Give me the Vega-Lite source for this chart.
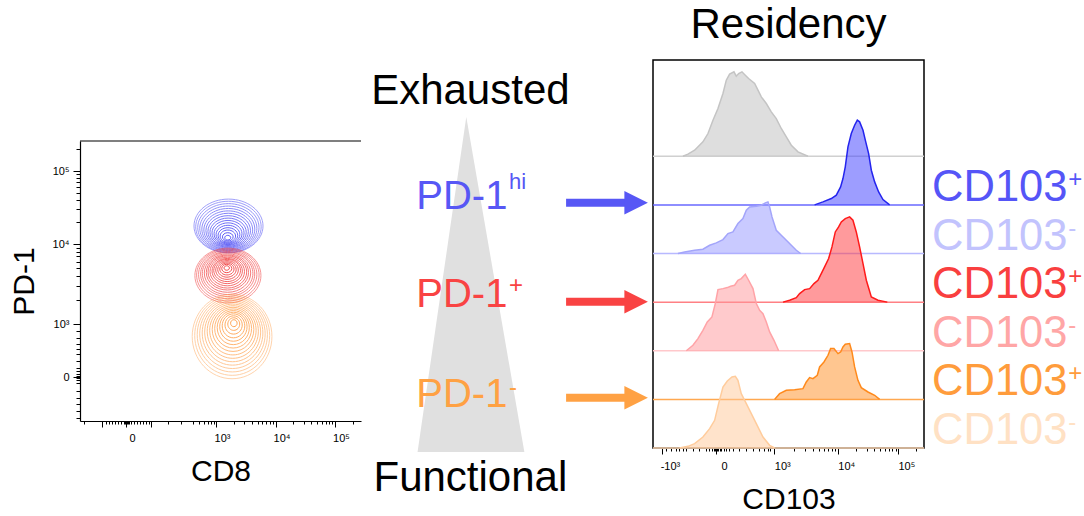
{
  "$schema": "https://vega.github.io/schema/vega-lite/v6.json",
  "padding": {"left": 9, "top": 3, "right": 0, "bottom": 0},
  "spacing": 0,
  "config": {
    "font": "Liberation Sans",
    "view": {"stroke": null},
    "axis": {"labelFont": "Liberation Sans", "titleFont": "Liberation Sans", "labelColor": "black", "titleColor": "black", "domainColor": "black", "tickColor": "black", "grid": false, "titleFontWeight": "normal"},
    "title": {"font": "Liberation Sans", "fontWeight": "normal", "color": "black"},
    "text": {"font": "Liberation Sans"}
  },
  "datasets": {
    "rings": [
      {"pop": "hi", "cd8": 3.21, "pd1": 4.225, "spread": 1.16},
      {"pop": "hi", "cd8": 3.209, "pd1": 4.215, "spread": 1.1},
      {"pop": "hi", "cd8": 3.208, "pd1": 4.206, "spread": 1.03},
      {"pop": "hi", "cd8": 3.207, "pd1": 4.196, "spread": 0.96},
      {"pop": "hi", "cd8": 3.207, "pd1": 4.186, "spread": 0.89},
      {"pop": "hi", "cd8": 3.206, "pd1": 4.176, "spread": 0.82},
      {"pop": "hi", "cd8": 3.205, "pd1": 4.167, "spread": 0.75},
      {"pop": "hi", "cd8": 3.204, "pd1": 4.157, "spread": 0.68},
      {"pop": "hi", "cd8": 3.203, "pd1": 4.147, "spread": 0.61},
      {"pop": "hi", "cd8": 3.202, "pd1": 4.138, "spread": 0.54},
      {"pop": "hi", "cd8": 3.202, "pd1": 4.128, "spread": 0.47},
      {"pop": "hi", "cd8": 3.201, "pd1": 4.118, "spread": 0.4},
      {"pop": "hi", "cd8": 3.2, "pd1": 4.108, "spread": 0.33},
      {"pop": "hi", "cd8": 3.199, "pd1": 4.099, "spread": 0.26},
      {"pop": "hi", "cd8": 3.198, "pd1": 4.089, "spread": 0.18},
      {"pop": "hi", "cd8": 3.197, "pd1": 4.079, "spread": 0.1},
      {"pop": "pos", "cd8": 3.2, "pd1": 3.606, "spread": 1.11},
      {"pop": "pos", "cd8": 3.199, "pd1": 3.612, "spread": 1.05},
      {"pop": "pos", "cd8": 3.197, "pd1": 3.619, "spread": 0.98},
      {"pop": "pos", "cd8": 3.196, "pd1": 3.625, "spread": 0.91},
      {"pop": "pos", "cd8": 3.195, "pd1": 3.631, "spread": 0.85},
      {"pop": "pos", "cd8": 3.193, "pd1": 3.637, "spread": 0.78},
      {"pop": "pos", "cd8": 3.192, "pd1": 3.644, "spread": 0.71},
      {"pop": "pos", "cd8": 3.191, "pd1": 3.65, "spread": 0.65},
      {"pop": "pos", "cd8": 3.189, "pd1": 3.656, "spread": 0.58},
      {"pop": "pos", "cd8": 3.188, "pd1": 3.662, "spread": 0.51},
      {"pop": "pos", "cd8": 3.187, "pd1": 3.669, "spread": 0.45},
      {"pop": "pos", "cd8": 3.185, "pd1": 3.675, "spread": 0.38},
      {"pop": "pos", "cd8": 3.184, "pd1": 3.681, "spread": 0.31},
      {"pop": "pos", "cd8": 3.183, "pd1": 3.687, "spread": 0.24},
      {"pop": "pos", "cd8": 3.181, "pd1": 3.694, "spread": 0.17},
      {"pop": "pos", "cd8": 3.18, "pd1": 3.7, "spread": 0.09},
      {"pop": "neg", "cd8": 3.27, "pd1": 2.844, "spread": 1.34},
      {"pop": "neg", "cd8": 3.272, "pd1": 2.855, "spread": 1.26},
      {"pop": "neg", "cd8": 3.274, "pd1": 2.866, "spread": 1.18},
      {"pop": "neg", "cd8": 3.276, "pd1": 2.877, "spread": 1.1},
      {"pop": "neg", "cd8": 3.278, "pd1": 2.888, "spread": 1.02},
      {"pop": "neg", "cd8": 3.28, "pd1": 2.899, "spread": 0.94},
      {"pop": "neg", "cd8": 3.282, "pd1": 2.91, "spread": 0.86},
      {"pop": "neg", "cd8": 3.284, "pd1": 2.921, "spread": 0.78},
      {"pop": "neg", "cd8": 3.286, "pd1": 2.933, "spread": 0.7},
      {"pop": "neg", "cd8": 3.288, "pd1": 2.944, "spread": 0.62},
      {"pop": "neg", "cd8": 3.29, "pd1": 2.955, "spread": 0.54},
      {"pop": "neg", "cd8": 3.292, "pd1": 2.966, "spread": 0.46},
      {"pop": "neg", "cd8": 3.294, "pd1": 2.977, "spread": 0.38},
      {"pop": "neg", "cd8": 3.296, "pd1": 2.988, "spread": 0.29},
      {"pop": "neg", "cd8": 3.298, "pd1": 2.999, "spread": 0.2},
      {"pop": "neg", "cd8": 3.3, "pd1": 3.01, "spread": 0.11}
    ],
    "tri": [
      {"y": 8.705, "xl": 3.66, "xr": 3.66},
      {"y": 1.091, "xl": 1.99, "xr": 5.65}
    ],
    "words": [
      {"text": "Exhausted", "x": 3.8, "y": 9.0},
      {"text": "Functional", "x": 3.8, "y": 0.205}
    ],
    "pd1": [
      {"c": "hi", "name": "PD-1", "sup": "hi", "y": 6.607, "ay": 6.757},
      {"c": "pos", "name": "PD-1", "sup": "+", "y": 4.38, "ay": 4.507},
      {"c": "neg", "name": "PD-1", "sup": "-", "y": 2.107, "ay": 2.325}
    ],
    "groups": [
      {"g": "gray", "base": 6, "label": "", "sup": ""},
      {"g": "hiP", "base": 5, "label": "CD103", "sup": "+"},
      {"g": "hiN", "base": 4, "label": "CD103", "sup": "-"},
      {"g": "posP", "base": 3, "label": "CD103", "sup": "+"},
      {"g": "posN", "base": 2, "label": "CD103", "sup": "-"},
      {"g": "negP", "base": 1, "label": "CD103", "sup": "+"},
      {"g": "negN", "base": 0, "label": "CD103", "sup": "-"}
    ],
    "hist": [
      {"g": "gray", "w": 1.573, "y": 6.0}, {"g": "gray", "w": 1.651, "y": 6.043}, {"g": "gray", "w": 1.755, "y": 6.125},
      {"g": "gray", "w": 1.885, "y": 6.296}, {"g": "gray", "w": 1.964, "y": 6.468}, {"g": "gray", "w": 2.042, "y": 6.742},
      {"g": "gray", "w": 2.12, "y": 6.982}, {"g": "gray", "w": 2.198, "y": 7.291}, {"g": "gray", "w": 2.25, "y": 7.565},
      {"g": "gray", "w": 2.302, "y": 7.689}, {"g": "gray", "w": 2.37, "y": 7.737}, {"g": "gray", "w": 2.406, "y": 7.648},
      {"g": "gray", "w": 2.443, "y": 7.702}, {"g": "gray", "w": 2.495, "y": 7.737}, {"g": "gray", "w": 2.547, "y": 7.668},
      {"g": "gray", "w": 2.599, "y": 7.6}, {"g": "gray", "w": 2.693, "y": 7.497}, {"g": "gray", "w": 2.745, "y": 7.359},
      {"g": "gray", "w": 2.797, "y": 7.222}, {"g": "gray", "w": 2.875, "y": 7.085}, {"g": "gray", "w": 2.953, "y": 6.914},
      {"g": "gray", "w": 3.031, "y": 6.776}, {"g": "gray", "w": 3.109, "y": 6.571}, {"g": "gray", "w": 3.188, "y": 6.399},
      {"g": "gray", "w": 3.266, "y": 6.228}, {"g": "gray", "w": 3.37, "y": 6.091}, {"g": "gray", "w": 3.526, "y": 6.0},
      {"g": "hiP", "w": 3.63, "y": 5.0}, {"g": "hiP", "w": 3.76, "y": 5.062}, {"g": "hiP", "w": 3.891, "y": 5.13},
      {"g": "hiP", "w": 3.969, "y": 5.199}, {"g": "hiP", "w": 4.036, "y": 5.37}, {"g": "hiP", "w": 4.073, "y": 5.542},
      {"g": "hiP", "w": 4.109, "y": 5.782}, {"g": "hiP", "w": 4.151, "y": 6.193}, {"g": "hiP", "w": 4.203, "y": 6.468},
      {"g": "hiP", "w": 4.255, "y": 6.639}, {"g": "hiP", "w": 4.297, "y": 6.742}, {"g": "hiP", "w": 4.333, "y": 6.708},
      {"g": "hiP", "w": 4.386, "y": 6.536}, {"g": "hiP", "w": 4.422, "y": 6.331}, {"g": "hiP", "w": 4.474, "y": 6.056},
      {"g": "hiP", "w": 4.516, "y": 5.713}, {"g": "hiP", "w": 4.568, "y": 5.473}, {"g": "hiP", "w": 4.63, "y": 5.267},
      {"g": "hiP", "w": 4.698, "y": 5.11}, {"g": "hiP", "w": 4.802, "y": 5.0},
      {"g": "hiN", "w": 1.495, "y": 4.0}, {"g": "hiN", "w": 1.599, "y": 4.033}, {"g": "hiN", "w": 1.755, "y": 4.067},
      {"g": "hiN", "w": 1.885, "y": 4.088}, {"g": "hiN", "w": 1.99, "y": 4.17}, {"g": "hiN", "w": 2.094, "y": 4.218},
      {"g": "hiN", "w": 2.198, "y": 4.287}, {"g": "hiN", "w": 2.276, "y": 4.41}, {"g": "hiN", "w": 2.354, "y": 4.444},
      {"g": "hiN", "w": 2.432, "y": 4.616}, {"g": "hiN", "w": 2.51, "y": 4.719}, {"g": "hiN", "w": 2.563, "y": 4.89},
      {"g": "hiN", "w": 2.615, "y": 4.959}, {"g": "hiN", "w": 2.719, "y": 4.973}, {"g": "hiN", "w": 2.797, "y": 4.993},
      {"g": "hiN", "w": 2.86, "y": 5.041}, {"g": "hiN", "w": 2.901, "y": 5.062}, {"g": "hiN", "w": 2.927, "y": 4.959},
      {"g": "hiN", "w": 2.964, "y": 4.753}, {"g": "hiN", "w": 3.031, "y": 4.479}, {"g": "hiN", "w": 3.109, "y": 4.376},
      {"g": "hiN", "w": 3.188, "y": 4.273}, {"g": "hiN", "w": 3.266, "y": 4.17}, {"g": "hiN", "w": 3.344, "y": 4.067},
      {"g": "hiN", "w": 3.412, "y": 4.0},
      {"g": "posP", "w": 3.136, "y": 3.0}, {"g": "posP", "w": 3.24, "y": 3.038}, {"g": "posP", "w": 3.344, "y": 3.093},
      {"g": "posP", "w": 3.396, "y": 3.176}, {"g": "posP", "w": 3.474, "y": 3.258}, {"g": "posP", "w": 3.552, "y": 3.278},
      {"g": "posP", "w": 3.62, "y": 3.381}, {"g": "posP", "w": 3.682, "y": 3.45}, {"g": "posP", "w": 3.734, "y": 3.587},
      {"g": "posP", "w": 3.786, "y": 3.724}, {"g": "posP", "w": 3.849, "y": 3.896}, {"g": "posP", "w": 3.901, "y": 4.136},
      {"g": "posP", "w": 3.953, "y": 4.444}, {"g": "posP", "w": 4.005, "y": 4.547}, {"g": "posP", "w": 4.047, "y": 4.65},
      {"g": "posP", "w": 4.109, "y": 4.719}, {"g": "posP", "w": 4.177, "y": 4.753}, {"g": "posP", "w": 4.229, "y": 4.684},
      {"g": "posP", "w": 4.281, "y": 4.444}, {"g": "posP", "w": 4.333, "y": 4.136}, {"g": "posP", "w": 4.386, "y": 3.793},
      {"g": "posP", "w": 4.438, "y": 3.45}, {"g": "posP", "w": 4.516, "y": 3.107}, {"g": "posP", "w": 4.62, "y": 3.038},
      {"g": "posP", "w": 4.766, "y": 3.0},
      {"g": "posN", "w": 1.625, "y": 2.0}, {"g": "posN", "w": 1.729, "y": 2.113}, {"g": "posN", "w": 1.807, "y": 2.25},
      {"g": "posN", "w": 1.885, "y": 2.421}, {"g": "posN", "w": 1.953, "y": 2.593}, {"g": "posN", "w": 2.026, "y": 2.695},
      {"g": "posN", "w": 2.078, "y": 2.97}, {"g": "posN", "w": 2.12, "y": 3.258}, {"g": "posN", "w": 2.198, "y": 3.278},
      {"g": "posN", "w": 2.266, "y": 3.299}, {"g": "posN", "w": 2.318, "y": 3.327}, {"g": "posN", "w": 2.38, "y": 3.347},
      {"g": "posN", "w": 2.432, "y": 3.45}, {"g": "posN", "w": 2.484, "y": 3.484}, {"g": "posN", "w": 2.547, "y": 3.573},
      {"g": "posN", "w": 2.599, "y": 3.45}, {"g": "posN", "w": 2.667, "y": 3.278}, {"g": "posN", "w": 2.719, "y": 2.97},
      {"g": "posN", "w": 2.771, "y": 2.833}, {"g": "posN", "w": 2.823, "y": 2.764}, {"g": "posN", "w": 2.875, "y": 2.593},
      {"g": "posN", "w": 2.927, "y": 2.387}, {"g": "posN", "w": 2.995, "y": 2.215}, {"g": "posN", "w": 3.068, "y": 2.0},
      {"g": "negP", "w": 3.005, "y": 1.0}, {"g": "negP", "w": 3.083, "y": 1.118}, {"g": "negP", "w": 3.188, "y": 1.187},
      {"g": "negP", "w": 3.318, "y": 1.2}, {"g": "negP", "w": 3.448, "y": 1.221}, {"g": "negP", "w": 3.5, "y": 1.358},
      {"g": "negP", "w": 3.552, "y": 1.447}, {"g": "negP", "w": 3.604, "y": 1.427}, {"g": "negP", "w": 3.672, "y": 1.495},
      {"g": "negP", "w": 3.708, "y": 1.667}, {"g": "negP", "w": 3.776, "y": 1.77}, {"g": "negP", "w": 3.839, "y": 1.907},
      {"g": "negP", "w": 3.88, "y": 2.044}, {"g": "negP", "w": 3.932, "y": 2.044}, {"g": "negP", "w": 3.995, "y": 1.941},
      {"g": "negP", "w": 4.036, "y": 1.975}, {"g": "negP", "w": 4.073, "y": 2.078}, {"g": "negP", "w": 4.109, "y": 2.133},
      {"g": "negP", "w": 4.177, "y": 2.147}, {"g": "negP", "w": 4.214, "y": 1.975}, {"g": "negP", "w": 4.255, "y": 1.667},
      {"g": "negP", "w": 4.307, "y": 1.392}, {"g": "negP", "w": 4.359, "y": 1.241}, {"g": "negP", "w": 4.464, "y": 1.152},
      {"g": "negP", "w": 4.568, "y": 1.084}, {"g": "negP", "w": 4.646, "y": 1.0},
      {"g": "negN", "w": 1.521, "y": 0.0}, {"g": "negN", "w": 1.651, "y": 0.034}, {"g": "negN", "w": 1.755, "y": 0.089},
      {"g": "negN", "w": 1.885, "y": 0.226}, {"g": "negN", "w": 1.99, "y": 0.398}, {"g": "negN", "w": 2.068, "y": 0.569},
      {"g": "negN", "w": 2.13, "y": 0.912}, {"g": "negN", "w": 2.198, "y": 1.255}, {"g": "negN", "w": 2.266, "y": 1.379},
      {"g": "negN", "w": 2.339, "y": 1.461}, {"g": "negN", "w": 2.391, "y": 1.475}, {"g": "negN", "w": 2.432, "y": 1.392},
      {"g": "negN", "w": 2.484, "y": 1.118}, {"g": "negN", "w": 2.563, "y": 0.912}, {"g": "negN", "w": 2.641, "y": 0.706},
      {"g": "negN", "w": 2.719, "y": 0.501}, {"g": "negN", "w": 2.823, "y": 0.226}, {"g": "negN", "w": 2.927, "y": 0.055},
      {"g": "negN", "w": 3.005, "y": 0.0}
    ]
  },
  "resolve": {"scale": {"x": "independent", "y": "independent", "color": "independent", "fill": "independent", "stroke": "independent", "size": "independent", "shape": "independent", "opacity": "independent"}},
  "hconcat": [
    {
      "spacing": 0,
      "vconcat": [
        {
          "width": 281, "height": 80,
          "data": {"values": [{}]},
          "mark": {"type": "text"},
          "encoding": {"text": {"value": ""}}
        },
        {
          "width": 281, "height": 280,
          "resolve": {"axis": {"x": "independent", "y": "independent"}},
          "layer": [
            {
              "data": {"name": "rings"},
              "mark": {"type": "point", "filled": false, "strokeWidth": 1},
              "encoding": {
                "x": {"field": "cd8", "type": "quantitative",
                  "scale": {"domain": [0.714, 5.437], "nice": false, "zero": false},
                  "axis": {"orient": "bottom", "values": [1.084, 1.487, 1.908, 3, 4, 5], "labelExpr": "datum.value < 1.3 || (datum.value > 1.7 && datum.value < 2.5) ? '' : datum.value < 2 ? '0' : datum.value < 3.5 ? '10³' : datum.value < 4.5 ? '10⁴' : '10⁵'", "title": "CD8", "titleFontSize": 30, "labelFontSize": 11, "tickSize": 6, "labelPadding": 5, "labelOffset": 6, "titlePadding": 13, "domainWidth": 1.2, "labelFlush": false}},
                "y": {"field": "pd1", "type": "quantitative",
                  "scale": {"domain": [1.7875, 5.2875], "nice": false, "zero": false},
                  "axis": {"orient": "left", "values": [2.3375, 3, 4, 4.9125], "labelExpr": "datum.value < 2.6 ? '0' : datum.value < 3.5 ? '10³' : datum.value < 4.5 ? '10⁴' : '10⁵'", "title": "PD-1", "titleFontSize": 30, "labelFontSize": 11, "tickSize": 7, "labelPadding": 4, "titlePadding": 13, "domainWidth": 1.2, "labelFlush": false}},
                "size": {"field": "spread", "type": "quantitative", "scale": {"type": "pow", "exponent": 2, "domain": [0, 1.4], "range": [0, 6939]}, "legend": null},
                "opacity": {"field": "spread", "type": "quantitative", "scale": {"domain": [0.1, 1.34], "range": [0.95, 0.45]}, "legend": null},
                "shape": {"field": "pop", "type": "nominal", "scale": {"domain": ["hi", "pos", "neg"], "range": [
                  "M1,0C1,0.431,0.552,0.78,0,0.78C-0.552,0.78,-1,0.431,-1,0C-1,-0.431,-0.552,-0.78,0,-0.78C0.552,-0.78,1,-0.431,1,0Z",
                  "M1,0C1,0.458,0.552,0.83,0,0.83C-0.552,0.83,-1,0.458,-1,0C-1,-0.458,-0.552,-0.83,0,-0.83C0.552,-0.83,1,-0.458,1,0Z",
                  "M1,0C1,0.585,0.552,1.06,0,1.06C-0.552,1.06,-1,0.585,-1,0C-1,-0.585,-0.552,-1.06,0,-1.06C0.552,-1.06,1,-0.585,1,0Z"]}, "legend": null},
                "color": {"field": "pop", "type": "nominal", "scale": {"domain": ["hi", "pos", "neg"], "range": ["#4c4cf6", "#f24040", "#ffa04a"]}, "legend": null}
              }
            },
            {
              "data": {"values": [{}]},
              "mark": {"type": "rule", "color": "black", "strokeWidth": 1.2},
              "encoding": {"y": {"datum": 5.2875, "type": "quantitative", "axis": null}}
            },
            {
              "data": {"values": [{}]},
              "mark": {"type": "point", "opacity": 0},
              "encoding": {
                "x": {"datum": 3, "type": "quantitative", "axis": {"orient": "bottom", "title": null, "labels": false, "domain": false, "tickSize": 3,
                  "values": [0.787, 1.151, 1.202, 1.252, 1.303, 1.353, 1.403, 1.449, 1.471, 1.49, 1.504, 1.52, 1.538, 1.571, 1.622, 1.672, 1.723, 1.773, 1.824, 1.874, 2.188, 2.412, 2.608, 2.714, 2.798, 2.861, 2.916, 2.961, 3.301, 3.477, 3.602, 3.699, 3.778, 3.845, 3.903, 3.954, 4.301, 4.477, 4.602, 4.699, 4.778, 4.845, 4.903, 4.954, 5.301]}},
                "y": {"datum": 3, "type": "quantitative", "axis": {"orient": "left", "title": null, "labels": false, "domain": false, "tickSize": 4,
                  "values": [1.829, 1.9125, 2.0, 2.079, 2.1625, 2.2625, 2.3, 2.32, 2.355, 2.375, 2.4125, 2.454, 2.5375, 2.625, 2.6875, 2.75, 2.829, 2.9125, 3.301, 3.477, 3.602, 3.699, 3.778, 3.845, 3.903, 3.954, 4.275, 4.435, 4.549, 4.638, 4.71, 4.771, 4.824, 4.871, 5.187]}}
              }
            }
          ]
        }
      ]
    },
    {
      "width": 289, "height": 440,
      "layer": [
        {
          "data": {"name": "tri"},
          "mark": {"type": "area", "orient": "horizontal", "color": "#e0e0e0"},
          "encoding": {
            "y": {"field": "y", "type": "quantitative", "scale": {"domain": [0, 10], "nice": false, "zero": false}, "axis": null},
            "x": {"field": "xl", "type": "quantitative", "scale": {"domain": [0.086, 9.99], "nice": false, "zero": false}, "axis": null},
            "x2": {"field": "xr"}
          }
        },
        {
          "data": {"name": "words"},
          "mark": {"type": "text", "fontSize": 42, "align": "center", "baseline": "alphabetic", "color": "black"},
          "encoding": {
            "x": {"field": "x", "type": "quantitative"},
            "y": {"field": "y", "type": "quantitative"},
            "text": {"field": "text"}
          }
        },
        {
          "data": {"name": "pd1"},
          "mark": {"type": "text", "fontSize": 40, "align": "right", "baseline": "alphabetic"},
          "encoding": {
            "x": {"datum": 5.07, "type": "quantitative"},
            "y": {"field": "y", "type": "quantitative"},
            "text": {"field": "name"},
            "color": {"field": "c", "type": "nominal", "scale": {"domain": ["hi", "pos", "neg"], "range": ["#5757f5", "#f94343", "#ffa143"]}, "legend": null}
          }
        },
        {
          "data": {"name": "pd1"},
          "mark": {"type": "text", "fontSize": {"expr": "datum.c == 'hi' ? 22 : 24"}, "align": "left", "baseline": "alphabetic", "dy": {"expr": "datum.c == 'hi' ? -20 : datum.c == 'pos' ? -14 : -12"}},
          "encoding": {
            "x": {"datum": 5.12, "type": "quantitative"},
            "y": {"field": "y", "type": "quantitative"},
            "text": {"field": "sup"},
            "color": {"field": "c", "type": "nominal", "legend": null}
          }
        },
        {
          "data": {"name": "pd1"},
          "mark": {"type": "rule", "strokeWidth": 8},
          "encoding": {
            "x": {"datum": 7.08, "type": "quantitative"},
            "x2": {"datum": 9.3},
            "y": {"field": "ay", "type": "quantitative"},
            "color": {"field": "c", "type": "nominal", "legend": null}
          }
        },
        {
          "data": {"name": "pd1"},
          "mark": {"type": "point", "shape": "M1,0L-1,-1L-1,1Z", "size": 552, "filled": true, "opacity": 1},
          "encoding": {
            "x": {"datum": 9.48, "type": "quantitative"},
            "y": {"field": "ay", "type": "quantitative"},
            "color": {"field": "c", "type": "nominal", "legend": null}
          }
        }
      ]
    },
    {
      "width": 271, "height": 388,
      "title": {"text": "Residency", "fontSize": 42, "offset": 13},
      "view": {"stroke": "black", "strokeWidth": 1.5},
      "resolve": {"axis": {"x": "independent"}},
      "layer": [
        {
          "data": {"name": "groups"},
          "mark": {"type": "rule", "strokeWidth": 1.5},
          "encoding": {
            "y": {"field": "base", "type": "quantitative", "scale": {"domain": [0, 7.98], "nice": false, "zero": false}, "axis": null},
            "color": {"field": "g", "type": "nominal", "scale": {"domain": ["gray", "hiP", "hiN", "posP", "posN", "negP", "negN"], "range": ["#d0d0d0", "#6868ff", "#b8b9ff", "#ff8084", "#ffc8cb", "#ffa850", "#ffd9b5"]}, "legend": null}
          }
        },
        {
          "data": {"name": "hist"},
          "transform": [{"lookup": "g", "from": {"data": {"name": "groups"}, "key": "g", "fields": ["base"]}}],
          "mark": {"type": "area", "fillOpacity": 0.5},
          "encoding": {
            "x": {"field": "w", "type": "quantitative",
              "scale": {"domain": [1.105, 5.339], "nice": false, "zero": false},
              "axis": {"orient": "bottom", "values": [1.245, 2.089, 3, 4, 4.9375], "labelExpr": "datum.value < 2 ? '-10³' : datum.value < 2.5 ? '0' : datum.value < 3.5 ? '10³' : datum.value < 4.5 ? '10⁴' : '10⁵'", "title": "CD103", "titleFontSize": 30, "labelFontSize": 11, "tickSize": 6, "labelPadding": 6, "labelOffset": 8, "titlePadding": 13, "domain": false, "labelFlush": false}},
            "y": {"field": "y", "type": "quantitative"},
            "y2": {"field": "base"},
            "fill": {"field": "g", "type": "nominal", "scale": {"domain": ["gray", "hiP", "hiN", "posP", "posN", "negP", "negN"], "range": ["#bdbdbd", "#3c3cff", "#9395ff", "#ff3539", "#ff9599", "#ff8d21", "#ffc797"]}, "legend": null}
          }
        },
        {
          "data": {"name": "hist"},
          "mark": {"type": "line", "strokeWidth": 1.5},
          "encoding": {
            "x": {"field": "w", "type": "quantitative", "axis": null},
            "y": {"field": "y", "type": "quantitative"},
            "stroke": {"field": "g", "type": "nominal", "scale": {"domain": ["gray", "hiP", "hiN", "posP", "posN", "negP", "negN"], "range": ["#c4c4c4", "#2424ee", "#a3a5fa", "#ff1a1a", "#ffa3a7", "#ff8a1c", "#ffcc9c"]}, "legend": null}
          }
        },
        {
          "data": {"values": [{}]},
          "mark": {"type": "point", "opacity": 0},
          "encoding": {
            "x": {"datum": 3, "type": "quantitative", "axis": {"orient": "bottom", "title": null, "labels": false, "domain": false, "tickSize": 3,
              "values": [1.3125, 1.391, 1.469, 1.516, 1.573, 1.625, 1.73, 1.828, 1.9375, 1.984, 2.031, 2.06, 2.078, 2.11, 2.125, 2.15, 2.172, 2.219, 2.25, 2.292, 2.359, 2.453, 2.5625, 2.667, 2.766, 2.844, 2.902, 2.9375, 3.301, 3.477, 3.602, 3.699, 3.778, 3.845, 3.903, 3.954, 4.282, 4.447, 4.564, 4.655, 4.729, 4.792, 4.846, 4.895, 5.22]}}
          }
        }
      ]
    },
    {
      "width": 161, "height": 388,
      "data": {"name": "groups"},
      "transform": [{"filter": "datum.g != 'gray'"}],
      "layer": [
        {
          "mark": {"type": "text", "fontSize": 43.5, "align": "right", "baseline": "alphabetic", "dy": -4},
          "encoding": {
            "x": {"datum": 0.879, "type": "quantitative", "scale": {"domain": [0, 1], "nice": false, "zero": false}, "axis": null},
            "y": {"field": "base", "type": "quantitative", "scale": {"domain": [0, 7.98], "nice": false, "zero": false}, "axis": null},
            "text": {"field": "label"},
            "color": {"field": "g", "type": "nominal", "scale": {"domain": ["hiP", "hiN", "posP", "posN", "negP", "negN"], "range": ["#5555f7", "#c2c3fd", "#f93f3f", "#ffa6a6", "#ff9c3c", "#ffe1c4"]}, "legend": null}
          }
        },
        {
          "mark": {"type": "text", "fontSize": 24, "align": "left", "baseline": "alphabetic", "dy": -18},
          "encoding": {
            "x": {"datum": 0.883, "type": "quantitative"},
            "y": {"field": "base", "type": "quantitative"},
            "text": {"field": "sup"},
            "color": {"field": "g", "type": "nominal", "legend": null}
          }
        }
      ]
    }
  ]
}
